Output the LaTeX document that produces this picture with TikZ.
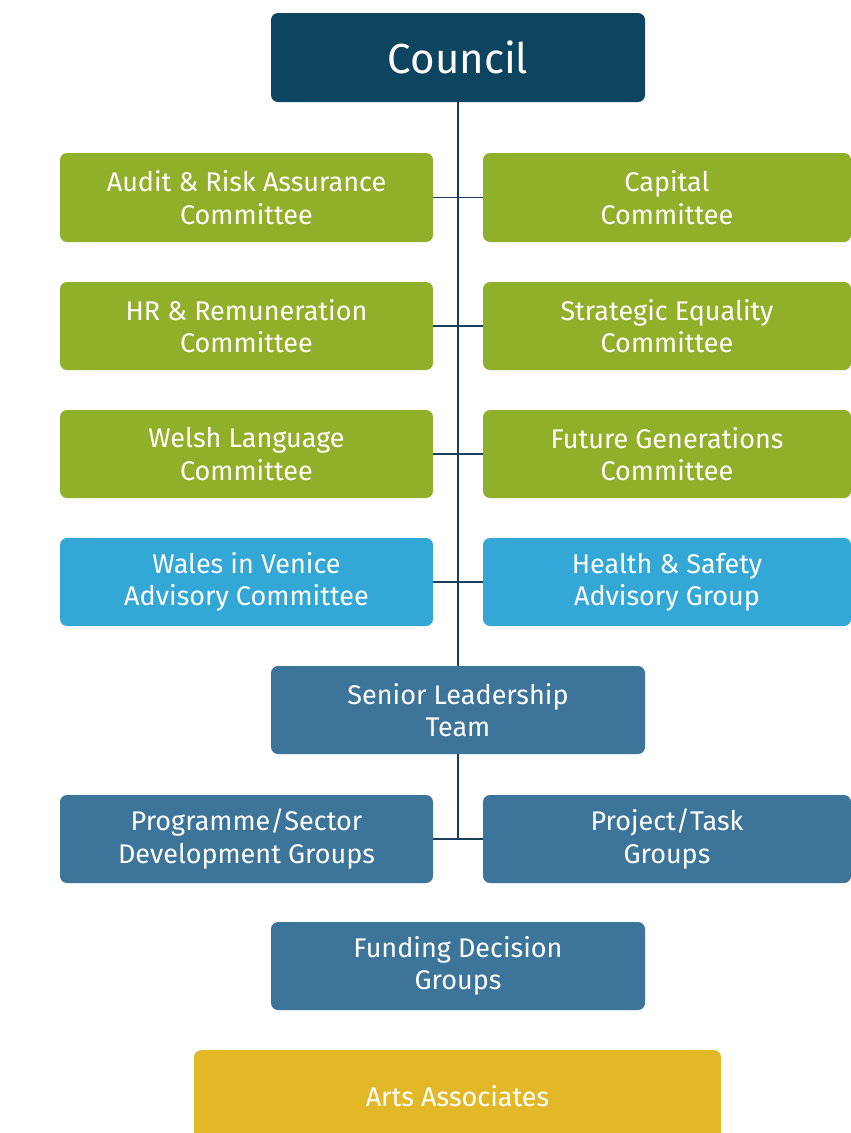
\documentclass[tikz,border=0pt]{standalone}
\usepackage{fontspec}
\setmainfont{Fira Sans}
\definecolor{navy}{HTML}{0D4560}
\definecolor{cgreen}{HTML}{92AF2A}
\definecolor{cblue}{HTML}{33A8D6}
\definecolor{csteel}{HTML}{3D7499}
\definecolor{cyellow}{HTML}{E2B829}
\definecolor{cline}{HTML}{1A3F5A}
\begin{document}
\begin{tikzpicture}[x=1pt,y=-1pt,
  box/.style={rounded corners=7pt, inner sep=0pt, text=white, align=center,
    font=\fontsize{27}{32.5}\selectfont},
  link/.style={draw=cline, line width=1.8pt}]
\useasboundingbox (0,0) rectangle (851,1133);
\fill[white] (0,0) rectangle (851,1133);
% boxes
\node[box, fill=navy, minimum width=374pt, minimum height=89pt, font=\fontsize{42}{48}\selectfont] (council) at (458,57.5) {Council};
\node[box, fill=cgreen, minimum width=373pt, minimum height=89pt] (l1) at (246.5,197.5) {Audit \& Risk Assurance\\Committee};
\node[box, fill=cgreen, minimum width=368pt, minimum height=89pt] (r1) at (667,197.5) {Capital\\Committee};
\node[box, fill=cgreen, minimum width=373pt, minimum height=88pt] (l2) at (246.5,326) {HR \& Remuneration\\Committee};
\node[box, fill=cgreen, minimum width=368pt, minimum height=88pt] (r2) at (667,326) {Strategic Equality\\Committee};
\node[box, fill=cgreen, minimum width=373pt, minimum height=88pt] (l3) at (246.5,454) {Welsh Language\\Committee};
\node[box, fill=cgreen, minimum width=368pt, minimum height=88pt] (r3) at (667,454) {Future Generations\\Committee};
\node[box, fill=cblue, minimum width=373pt, minimum height=88pt] (l4) at (246.5,582) {Wales in Venice\\Advisory Committee};
\node[box, fill=cblue, minimum width=368pt, minimum height=88pt] (r4) at (667,582) {Health \& Safety\\Advisory Group};
\node[box, fill=csteel, minimum width=374pt, minimum height=88pt] (slt) at (458,710) {Senior Leadership\\Team};
\node[box, fill=csteel, minimum width=373pt, minimum height=88pt] (l5) at (246.5,839) {Programme/Sector\\Development Groups};
\node[box, fill=csteel, minimum width=368pt, minimum height=88pt] (r5) at (667,839) {Project/Task\\Groups};
\node[box, fill=csteel, minimum width=374pt, minimum height=88pt] (fdg) at (458,966) {Funding Decision\\Groups};
\node[box, fill=cyellow, minimum width=527pt, minimum height=110pt, anchor=north] (arts) at (457.5,1050) {};
\node[text=white, font=\fontsize{27}{32.5}\selectfont] (artslabel) at (457.5,1096) {Arts Associates};
% connectors
\coordinate (t5) at (458,839);
\draw[link] (council.south) -- (slt.north);
\draw[link] (slt.south) -- (t5);
\draw[link] (l1.east) -- (r1.west);
\draw[link] (l2.east) -- (r2.west);
\draw[link] (l3.east) -- (r3.west);
\draw[link] (l4.east) -- (r4.west);
\draw[link] (l5.east) -- (r5.west);
\end{tikzpicture}
\end{document}
